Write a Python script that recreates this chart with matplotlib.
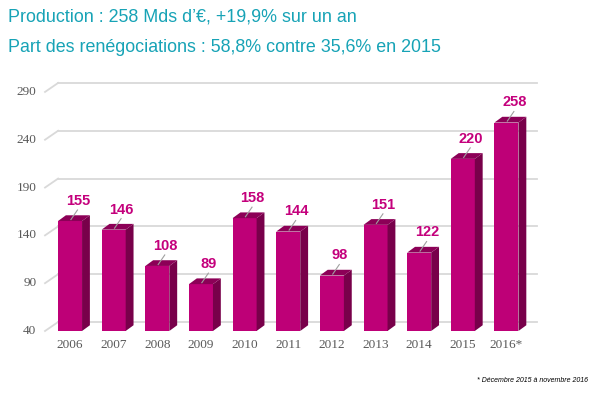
"""Production de crédits immobiliers 2006-2016, barres pseudo-3D."""

import matplotlib
matplotlib.use("Agg")
import matplotlib.pyplot as plt
from matplotlib.patches import Polygon

years = ["2006", "2007", "2008", "2009", "2010", "2011", "2012", "2013", "2014", "2015", "2016*"]
production = [155, 146, 108, 89, 158, 144, 98, 151, 122, 220, 258]
y_ticks = [40, 90, 140, 190, 240, 290]

FRONT = "#be0077"
SIDE = "#78004a"
TOP = "#8c0057"
GRID = "#d9d9d9"
TEAL = "#17a3b6"
LABEL = "#c4007c"

BAR_W = 0.55
DEPTH_X = 0.18   # bar depth, in category units
DEPTH_Y = 6.0    # bar depth, in value units
WALL_X = 0.30    # back wall offset
WALL_Y = 9.4
BASE = 40

fig = plt.figure(figsize=(5.98, 3.93), dpi=100)
ax = fig.add_axes([0.0753, 0.1578, 0.8227, 0.6387])
x0, x1 = -0.573, 10.70
ax.set_xlim(x0, x1)
ax.set_ylim(BASE, 302.5)
ax.set_axis_off()

# back wall gridlines with the little diagonal on the left
for v in y_ticks:
    ax.plot([x0 + WALL_X, x1], [v + WALL_Y, v + WALL_Y], color=GRID, lw=1.3, zorder=1,
            clip_on=False)
    ax.plot([x0, x0 + WALL_X], [v, v + WALL_Y], color=GRID, lw=1.3, zorder=1, clip_on=False)
    ax.text(x0 - 0.2, v, str(v), ha="right", va="center", fontsize=9.5,
            family="Liberation Serif", color="#595959")

xs = list(range(len(years)))
ax.bar(xs, [p - BASE for p in production], bottom=BASE, width=BAR_W, color=FRONT,
       zorder=3)

for x, v, yr in zip(xs, production, years):
    r = x + BAR_W / 2
    l = x - BAR_W / 2
    side = Polygon([(r, BASE), (r + DEPTH_X, BASE + DEPTH_Y), (r + DEPTH_X, v + DEPTH_Y),
                    (r, v)], closed=True, color=SIDE, zorder=3, lw=0)
    top = Polygon([(l, v), (l + DEPTH_X, v + DEPTH_Y), (r + DEPTH_X, v + DEPTH_Y), (r, v)],
                  closed=True, color=TOP, zorder=3, lw=0)
    ax.add_patch(side)
    ax.add_patch(top)
    # small leader line from the top face to the value
    ax.plot([x + 0.02, x + 0.17], [v + 1.5, v + 11.5], color="#a0a0a0", lw=0.8, zorder=4)
    ax.text(x + 0.18, v + 21, str(v), ha="center", va="center", fontsize=10.5,
            fontweight="bold", family="Liberation Sans", color=LABEL, zorder=5)
    ax.text(x, BASE - 14.5, yr, ha="center", va="center", fontsize=9.5,
            family="Liberation Serif", color="#595959")

fig.text(8 / 598, 1 - 17 / 393, "Production : 258 Mds d\u2019\u20ac, +19,9% sur un an",
         ha="left", va="center", fontsize=12.9, family="Liberation Sans", color=TEAL)
fig.text(8 / 598, 1 - 47 / 393, "Part des ren\u00e9gociations : 58,8% contre 35,6% en 2015",
         ha="left", va="center", fontsize=12.9, family="Liberation Sans", color=TEAL)
fig.text(588 / 598, 1 - 381 / 393, "* D\u00e9cembre 2015 \u00e0 novembre 2016",
         ha="right", va="center", fontsize=5, style="italic", family="Liberation Sans",
         color="black")

fig.savefig("out.png", dpi=100)
